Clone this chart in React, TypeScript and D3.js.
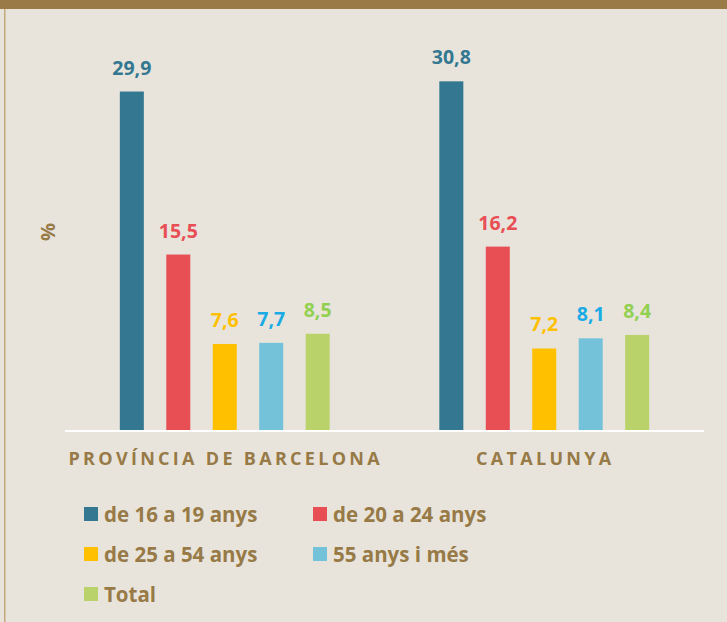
import React from "react";
import * as d3 from "d3";

const categories = ["PROVÍNCIA DE BARCELONA", "CATALUNYA"];
const seriesNames = ["de 16 a 19 anys", "de 20 a 24 anys", "de 25 a 54 anys", "55 anys i més", "Total"];
const provinciaValues = [29.9, 15.5, 7.6, 7.7, 8.5];
const catalunyaValues = [30.8, 16.2, 7.2, 8.1, 8.4];
const barColors = ["#337890", "#E84F55", "#FFC000", "#74C2D9", "#B9D26A"];
const labelColors = ["#337890", "#E84F55", "#FFC000", "#1AABE5", "#92D050"];

const W = 727;
const H = 622;
const BROWN = "#977A46";
const FONT = "'Open Sans', 'DejaVu Sans', sans-serif";

const fmt = (v: number) => v.toFixed(1).replace(".", ",");

export default function App() {
  const values = [provinciaValues, catalunyaValues];
  const x0 = d3.scaleBand<string>().domain(categories).range([65, 704]).padding(0);
  const x1 = d3
    .scaleBand<string>()
    .domain(seriesNames)
    .range([0, x0.bandwidth()])
    .paddingInner(0.483)
    .paddingOuter(1.18);
  const y = d3.scaleLinear().domain([0, 35]).range([430, 33.8]);

  const legendPos = [
    [84, 507],
    [313, 507],
    [84, 547],
    [313, 547],
    [84, 587],
  ];

  return (
    <svg
      width={W}
      height={H}
      style={{ position: "absolute", left: 0, top: 0 }}
      fontFamily={FONT}
    >
      <rect x={0} y={0} width={W} height={H} fill="#E8E4DC" />
      <rect x={0} y={0} width={W} height={9} fill="#9A7B47" />
      <rect x={4} y={9} width={1.5} height={H - 9} fill="#C4A97A" />

      <text
        transform="translate(47,232) rotate(-90)"
        textAnchor="middle"
        dominantBaseline="central"
        fontSize={20}
        fontWeight={700}
        fill={BROWN}
      >
        %
      </text>

      {categories.map((cat, ci) => (
        <g key={cat} transform={`translate(${x0(cat)},0)`}>
          {seriesNames.map((s, si) => {
            const v = values[ci][si];
            const bx = x1(s)!;
            const bw = x1.bandwidth();
            return (
              <g key={s}>
                <rect x={bx} y={y(v)} width={bw} height={y(0) - y(v)} fill={barColors[si]} />
                <text
                  x={bx + bw / 2}
                  y={y(v) - 17}
                  textAnchor="middle"
                  fontSize={19.5}
                  fontWeight={700}
                  fill={labelColors[si]}
                >
                  {fmt(v)}
                </text>
              </g>
            );
          })}
          <text
            x={x0.bandwidth() / 2 + 1}
            y={465}
            textAnchor="middle"
            fontSize={18}
            fontWeight={700}
            letterSpacing={3.3}
            fill={BROWN}
          >
            {cat}
          </text>
        </g>
      ))}

      <rect x={65} y={430} width={639} height={2} fill="#FFFFFF" />

      {seriesNames.map((s, i) => (
        <g key={s} transform={`translate(${legendPos[i][0]},${legendPos[i][1]})`}>
          <rect x={0} y={0} width={14} height={14} fill={barColors[i]} />
          <text x={20} y={15} fontSize={20.5} fontWeight={700} fill={BROWN}>
            {s}
          </text>
        </g>
      ))}
    </svg>
  );
}
